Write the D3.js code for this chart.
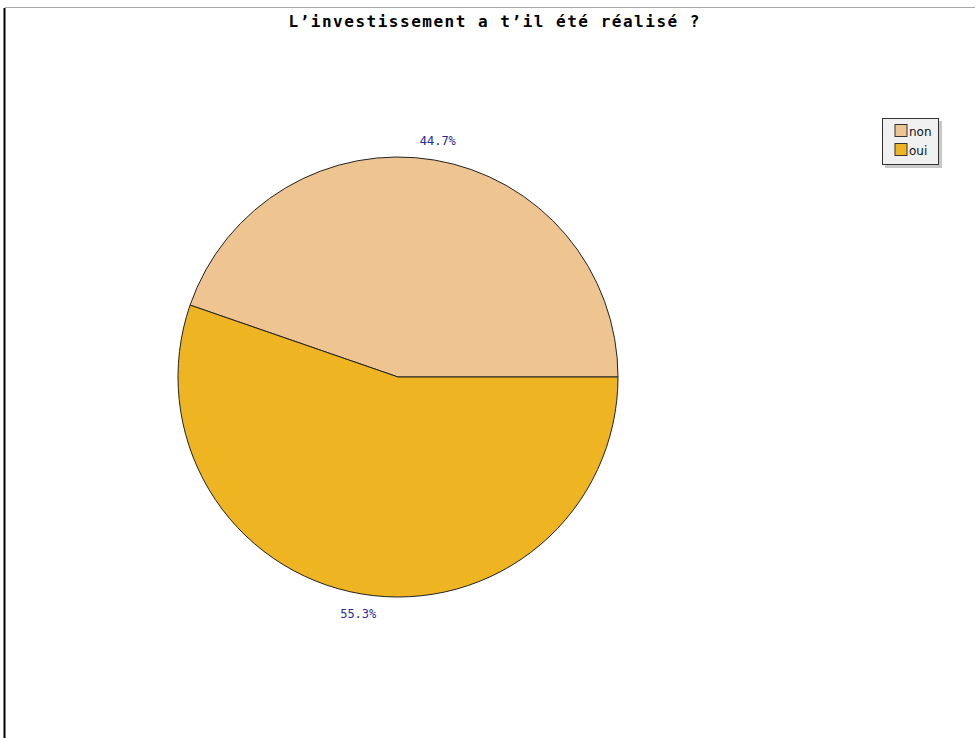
<!DOCTYPE html>
<html>
<head>
<meta charset="utf-8">
<script src="https://cdn.jsdelivr.net/npm/d3@7"></script>
<style>
  body { margin: 0; background: #fff; }
  svg { display: block; }
</style>
</head>
<body>
<div id="chart"></div>
<script>
// data
var categories = ['non', 'oui']
var values = [44.7, 55.3]
var colors = ['#EEC591', '#EEB422']
var title = 'L\u2019investissement a t\u2019il été réalisé ?'

var width = 976
var height = 738
var cx = 398
var cy = 377
var radius = 220

var svg = d3.select('#chart').append('svg')
  .attr('width', width)
  .attr('height', height)

// frame lines
svg.append('line')
  .attr('x1', 5).attr('x2', 975).attr('y1', 7.5).attr('y2', 7.5)
  .attr('stroke', '#aaa').attr('stroke-width', 1)
svg.append('line')
  .attr('x1', 4.5).attr('x2', 4.5).attr('y1', 8).attr('y2', height)
  .attr('stroke', '#000').attr('stroke-width', 2)

svg.append('text')
  .attr('x', 494).attr('y', 27)
  .attr('text-anchor', 'middle')
  .attr('font-family', 'DejaVu Sans Mono, monospace')
  .attr('font-weight', 'bold')
  .attr('font-size', 16)
  .attr('textLength', 411)
  .attr('lengthAdjust', 'spacing')
  .text(title)

// pie: start at 3 o'clock, going counter-clockwise
var pie = d3.pie()
  .sort(null)
  .startAngle(Math.PI / 2)
  .endAngle(Math.PI / 2 - 2 * Math.PI)
  .value(function (d) { return d })

var arcs = pie(values)
var arc = d3.arc().innerRadius(0).outerRadius(radius)
var labelArc = d3.arc().innerRadius(240).outerRadius(240)

var g = svg.append('g').attr('transform', 'translate(' + cx + ',' + cy + ')')

g.selectAll('path')
  .data(arcs)
  .enter().append('path')
  .attr('d', arc)
  .attr('fill', function (d, i) { return colors[i] })
  .attr('stroke', '#222')
  .attr('stroke-width', 1)

var total = d3.sum(values)
g.selectAll('text.pct')
  .data(arcs)
  .enter().append('text')
  .attr('class', 'pct')
  .attr('transform', function (d) { return 'translate(' + labelArc.centroid(d) + ')' })
  .attr('text-anchor', 'middle')
  .attr('dy', '0.35em')
  .attr('font-family', 'DejaVu Sans Mono, monospace')
  .attr('font-size', 12)
  .attr('fill', '#2a2a9a')
  .text(function (d) { return (d.data / total * 100).toFixed(1) + '%' })

// legend
var legend = svg.append('g').attr('transform', 'translate(882,118)')
legend.append('rect')
  .attr('x', 3).attr('y', 3).attr('width', 57).attr('height', 47)
  .attr('fill', '#c8c8c8')
legend.append('rect')
  .attr('x', 0.5).attr('y', 0.5).attr('width', 56).attr('height', 46)
  .attr('fill', '#f0f0f0').attr('stroke', '#333').attr('stroke-width', 1)

var items = legend.selectAll('g.item')
  .data(categories)
  .enter().append('g')
  .attr('class', 'item')
  .attr('transform', function (d, i) { return 'translate(13,' + (6.5 + i * 19) + ')' })
items.append('rect')
  .attr('width', 12).attr('height', 12)
  .attr('fill', function (d, i) { return colors[i] })
  .attr('stroke', '#333').attr('stroke-width', 1)
items.append('text')
  .attr('x', 14).attr('y', 11)
  .attr('font-family', 'DejaVu Sans, sans-serif')
  .attr('font-size', 12)
  .attr('fill', '#111')
  .text(function (d) { return d })
</script>
</body>
</html>
